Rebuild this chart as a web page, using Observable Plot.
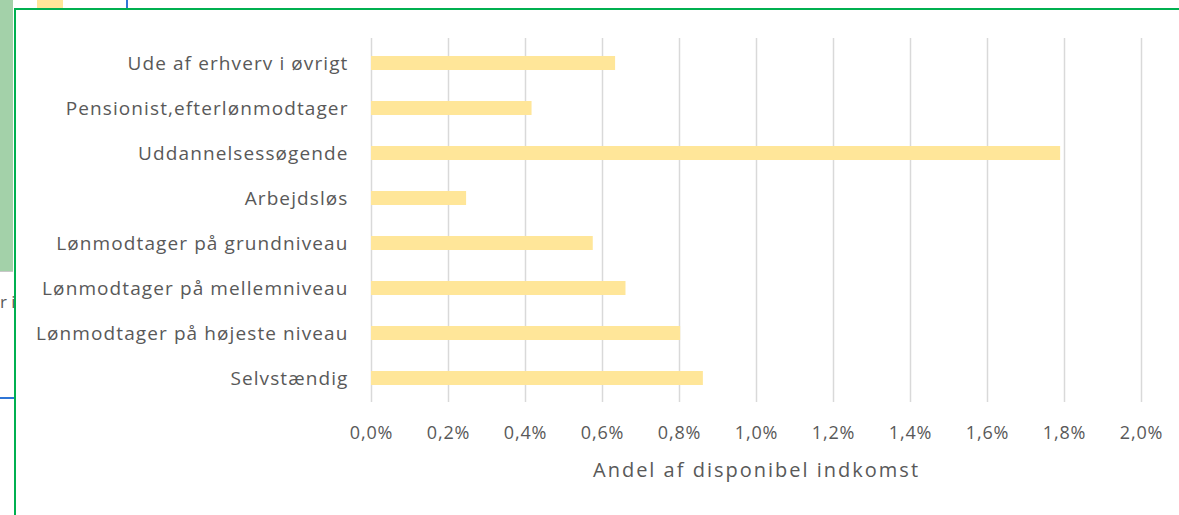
<!DOCTYPE html>
<html>
<head>
<meta charset="utf-8">
<script src="https://cdn.jsdelivr.net/npm/d3@7"></script>
<script src="https://cdn.jsdelivr.net/npm/@observablehq/plot@0.6"></script>
<style>
  html, body { margin: 0; padding: 0; background: #fff; }
  #wrap { position: relative; width: 1179px; height: 515px; overflow: hidden; }
  .deco { position: absolute; }
  #chart g[aria-label="y-axis tick label"] text { letter-spacing: 1.1px; }
  #chart g[aria-label="x-axis tick label"] text { letter-spacing: 0.8px; }
  #chart g[aria-label="x-axis label"] text { letter-spacing: 2px; }
</style>
</head>
<body>
<div id="wrap">
  <div class="deco" style="left:0;top:0;width:13px;height:271px;background:#a3d1a9;"></div>
  <div class="deco" style="left:0;top:271px;width:13px;height:1px;background:#c8c8c8;"></div>
  <div class="deco" style="left:37px;top:0;width:26px;height:8px;background:#ffe699;"></div>
  <div class="deco" style="left:126px;top:0;width:2px;height:8px;background:#2f75d6;"></div>
  <div class="deco" style="left:0;top:397px;width:14px;height:2px;background:#2f75d6;"></div>
  <div class="deco" style="left:0;top:290px;font:17px 'Open Sans';color:#595959;">r i</div>
  <div id="chart" class="deco" style="left:0;top:0;"></div>
  <div class="deco" style="left:14px;top:8px;width:1165px;height:2px;background:#00b050;"></div>
  <div class="deco" style="left:14px;top:8px;width:2px;height:507px;background:#00b050;"></div>
</div>
<script>
const categories = [
  "Ude af erhverv i øvrigt",
  "Pensionist,efterlønmodtager",
  "Uddannelsessøgende",
  "Arbejdsløs",
  "Lønmodtager på grundniveau",
  "Lønmodtager på mellemniveau",
  "Lønmodtager på højeste niveau",
  "Selvstændig"
];
const values = [0.634, 0.417, 1.79, 0.247, 0.576, 0.661, 0.803, 0.862];
const xTicks = [0, 0.2, 0.4, 0.6, 0.8, 1.0, 1.2, 1.4, 1.6, 1.8, 2.0];
const xLabel = "Andel af disponibel indkomst";

const data = categories.map((c, i) => ({category: c, value: values[i]}));
const fmt = d => d.toFixed(1).replace(".", ",") + "%";

const chart = Plot.plot({
  width: 1179,
  height: 515,
  marginLeft: 371,
  marginRight: 38,
  marginTop: 38,
  marginBottom: 113,
  style: {fontFamily: "'Open Sans', sans-serif", fontSize: "16px", color: "#595959", background: "transparent"},
  x: {domain: [0, 2.0], ticks: xTicks},
  y: {domain: categories, paddingInner: 0.69, paddingOuter: 0.345},
  marks: [
    Plot.gridX(xTicks, {stroke: "#d9d9d9", strokeWidth: 1.5, strokeOpacity: 1}),
    Plot.barX(data, {x: "value", y: "category", fill: "#ffe699"}),
    Plot.axisX({ticks: xTicks, tickFormat: fmt, tickSize: 0, tickPadding: 24, label: null, fill: "#595959", fontSize: 18}),
    Plot.axisX({ticks: [], tickSize: 0, label: xLabel, labelAnchor: "center", labelArrow: "none", labelOffset: 74, fill: "#595959", fontSize: 20}),
    Plot.axisY({tickSize: 0, tickPadding: 23, label: null, fill: "#595959", fontSize: 19})
  ]
});
document.getElementById("chart").appendChild(chart);
</script>
</body>
</html>
